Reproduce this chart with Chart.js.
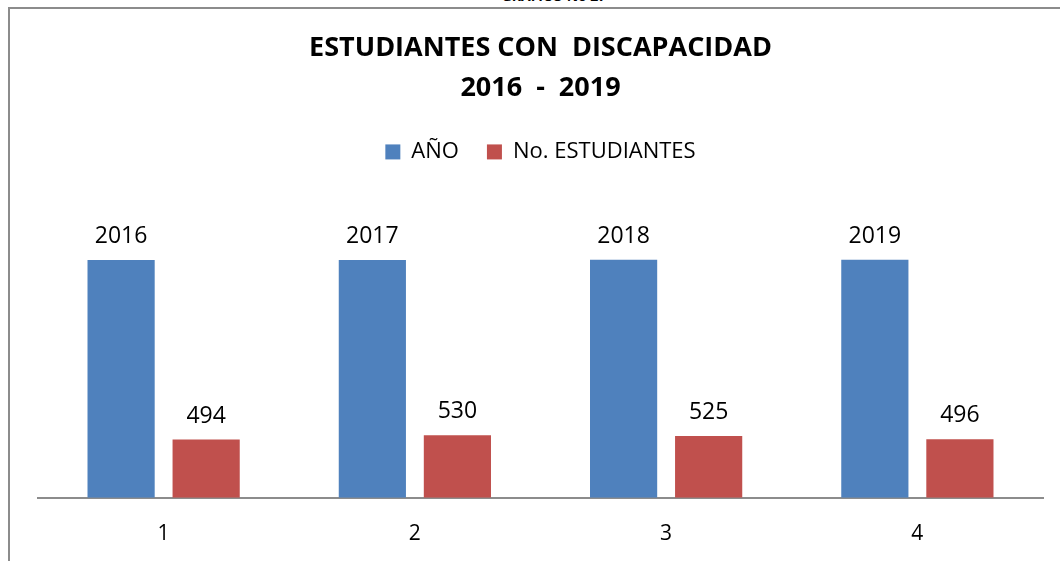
<!DOCTYPE html>
<html>
<head>
<meta charset="utf-8">
<script src="https://cdn.jsdelivr.net/npm/chart.js@4"></script>
<style>
    body { margin: 0; background: #fff; overflow: hidden; }
    #frame {
        position: absolute; left: 8px; top: 7px; width: 1100px; height: 600px;
        border-left: 2px solid #8c8c8c; border-top: 2px solid #8c8c8c;
    }
    #caption {
        position: absolute; left: 493px; top: -14px; width: 122px; text-align: center;
        font: bold 14px "Open Sans", sans-serif; color: #000;
    }
    #wrap { position: absolute; left: 0; top: 0; width: 1060px; height: 561px; }
</style>
</head>
<body>
<div id="caption">GRAFICO No 27</div>
<div id="frame"></div>
<div id="wrap"><canvas id="chart" width="1060" height="561"></canvas></div>
<script>
    const categories = ['1', '2', '3', '4'];
    const anoValues = [2016, 2017, 2018, 2019];
    const estudiantesValues = [494, 530, 525, 496];
    const titleLines = ['ESTUDIANTES CON  DISCAPACIDAD', '2016  -  2019'];

    // draw value labels above each bar
    const valueLabels = {
        id: 'valueLabels',
        afterDatasetsDraw(chart) {
            const ctx = chart.ctx;
            ctx.save();
            ctx.font = '23px "Open Sans", sans-serif';
            ctx.fillStyle = '#000';
            ctx.textAlign = 'center';
            ctx.textBaseline = 'bottom';
            chart.data.datasets.forEach((ds, i) => {
                chart.getDatasetMeta(i).data.forEach((bar, j) => {
                    ctx.fillText(ds.data[j], bar.x, bar.y - 12);
                });
            });
            ctx.restore();
        }
    };

    // extra room below the legend
    const legendSpace = {
        id: 'legendSpace',
        beforeInit(chart) {
            const fit = chart.legend.fit;
            chart.legend.fit = function () {
                fit.bind(chart.legend)();
                this.height += 30;
            };
        }
    };

    new Chart(document.getElementById('chart'), {
        type: 'bar',
        data: {
            labels: categories,
            datasets: [
                { label: 'AÑO', data: anoValues, backgroundColor: '#4F81BD' },
                { label: 'No. ESTUDIANTES', data: estudiantesValues, backgroundColor: '#C0504D' }
            ]
        },
        options: {
            responsive: false,
            animation: false,
            categoryPercentage: 0.677,
            barPercentage: 0.79,
            layout: { padding: { left: 38, right: 17, top: 28, bottom: -2 } },
            plugins: {
                title: {
                    display: true,
                    text: titleLines,
                    color: '#000',
                    font: { family: '"Open Sans", sans-serif', size: 27, weight: 'bold', lineHeight: 1.48 },
                    padding: { top: 0, bottom: 5 }
                },
                legend: {
                    position: 'top',
                    labels: {
                        color: '#000',
                        font: { family: '"Open Sans", sans-serif', size: 22 },
                        boxWidth: 15, boxHeight: 15, padding: 28
                    }
                },
                tooltip: { enabled: false }
            },
            scales: {
                x: {
                    grid: { display: false },
                    border: { display: true, color: '#8c8c8c', width: 2 },
                    ticks: { color: '#000', padding: 16, font: { family: '"Open Sans", sans-serif', size: 21 } }
                },
                y: {
                    display: false,
                    min: 0,
                    max: 2500
                }
            }
        },
        plugins: [valueLabels, legendSpace]
    });
</script>
</body>
</html>
